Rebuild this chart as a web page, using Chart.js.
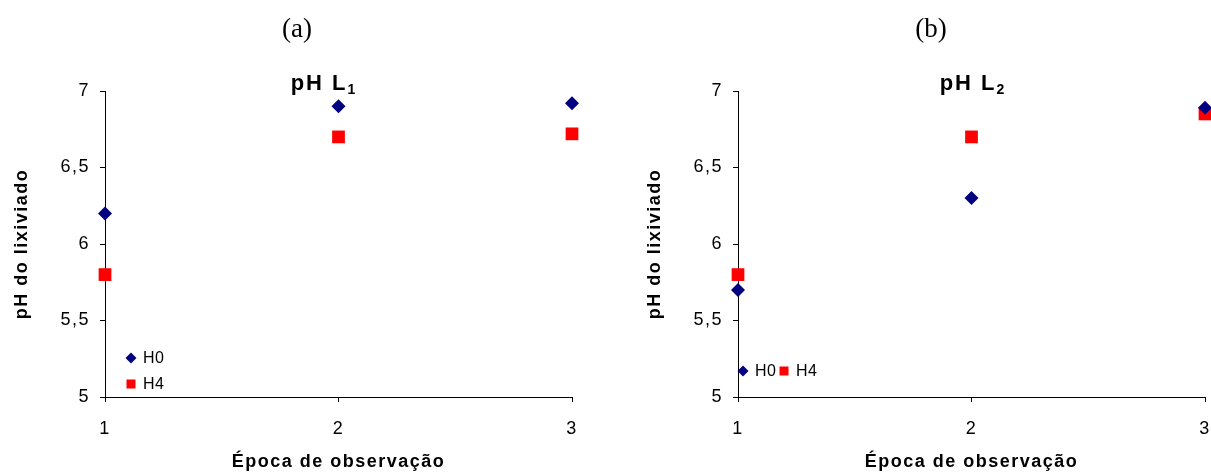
<!DOCTYPE html>
<html>
<head>
<meta charset="utf-8">
<script src="https://cdn.jsdelivr.net/npm/chart.js@4/dist/chart.umd.min.js"></script>
<style>
  html, body { margin: 0; padding: 0; background: #ffffff; }
  #wrap { position: relative; width: 1211px; height: 473px; overflow: hidden; }
  .box { position: absolute; top: 0; height: 473px; }
  #boxA { left: 0; width: 605px; }
  #boxB { left: 605px; width: 606px; }
</style>
</head>
<body>
<div id="wrap">
  <div class="box" id="boxA"><canvas id="chartA" width="605" height="473"></canvas></div>
  <div class="box" id="boxB"><canvas id="chartB" width="606" height="473"></canvas></div>
</div>
<script>
// ---- data ----
const epochs = [1, 2, 3];
const seriesNames = ['H0', 'H4'];
const panelLabels = ['(a)', '(b)'];
const panelTitles = ['pH L', 'pH L'];
const panelTitleSubs = ['1', '2'];
const L1_H0 = [6.2, 6.9, 6.92];
const L1_H4 = [5.8, 6.7, 6.72];
const L2_H0 = [5.7, 6.3, 6.89];
const L2_H4 = [5.8, 6.7, 6.85];
const yTickValues = [5, 5.5, 6, 6.5, 7];
const yTickLabels = ['5', '5,5', '6', '6,5', '7'];
const xTickLabels = ['1', '2', '3'];
const xAxisTitle = 'Época de observação';
const yAxisTitle = 'pH do lixiviado';

const FONT = "'Liberation Sans', Arial, sans-serif";
const SERIF = "'Liberation Serif', 'Times New Roman', serif";
const H0_COLOR = '#000080';
const H4_COLOR = '#ff0000';

function pts(ys) { return epochs.map((x, i) => ({ x: x, y: ys[i] })); }

// custom decorations: panel label, chart title with subscript, inside legend
const decorPlugin = {
  id: 'decor',
  beforeLayout(chart) { chart.ctx.letterSpacing = '1.5px'; },
  beforeDraw(chart) { chart.ctx.letterSpacing = '1.5px'; },
  afterDraw(chart, args, o) {
    const ctx = chart.ctx;
    ctx.save();
    ctx.letterSpacing = '0px';
    // panel label (a)/(b)
    ctx.fillStyle = '#000';
    ctx.font = '27px ' + SERIF;
    ctx.textAlign = 'center';
    ctx.textBaseline = 'middle';
    ctx.fillText(o.label, o.labelX, 30);
    // chart title with subscript
    ctx.letterSpacing = '2px';
    ctx.font = 'bold 22px ' + FONT;
    const mainW = ctx.measureText(o.title).width;
    ctx.font = 'bold 14px ' + FONT;
    const subW = ctx.measureText(o.sub).width;
    const startX = o.titleX - (mainW + subW) / 2;
    ctx.textAlign = 'left';
    ctx.textBaseline = 'alphabetic';
    ctx.font = 'bold 22px ' + FONT;
    ctx.fillText(o.title, startX, 90);
    ctx.font = 'bold 14px ' + FONT;
    ctx.fillText(o.sub, startX + mainW, 94);
    // legend
    ctx.letterSpacing = '0.5px';
    ctx.font = '16px ' + FONT;
    ctx.textBaseline = 'middle';
    chart.data.datasets.forEach((ds, i) => {
      const p = o.legend[i];
      ctx.fillStyle = ds.backgroundColor;
      ctx.beginPath();
      if (ds.pointStyle === 'rectRot') {
        const r = 5.5;
        ctx.moveTo(p[0] - r, p[1]); ctx.lineTo(p[0], p[1] - r);
        ctx.lineTo(p[0] + r, p[1]); ctx.lineTo(p[0], p[1] + r);
      } else {
        const s = 4.5;
        ctx.rect(p[0] - s, p[1] - s, 2 * s, 2 * s);
      }
      ctx.closePath();
      ctx.fill();
      ctx.fillStyle = '#000';
      ctx.fillText(ds.label, p[0] + 12, p[1] + 1);
    });
    ctx.restore();
  }
};

function makeChart(id, h0, h4, cfg) {
  return new Chart(document.getElementById(id), {
    type: 'scatter',
    data: {
      datasets: [
        { label: seriesNames[0], data: pts(h0), pointStyle: 'rectRot', pointRadius: 7, pointHoverRadius: 7,
          backgroundColor: H0_COLOR, borderColor: H0_COLOR, borderWidth: 0, clip: false },
        { label: seriesNames[1], data: pts(h4), pointStyle: 'rect', pointRadius: 9, pointHoverRadius: 9,
          backgroundColor: H4_COLOR, borderColor: H4_COLOR, borderWidth: 0, clip: false }
      ]
    },
    options: {
      responsive: false,
      animation: false,
      devicePixelRatio: 1,
      layout: { autoPadding: false, padding: { top: 91, right: cfg.padRight, bottom: 0, left: 0 } },
      plugins: {
        legend: { display: false },
        title: { display: false },
        tooltip: { enabled: false },
        decor: cfg.decor
      },
      scales: {
        x: {
          type: 'linear', min: 1, max: 3,
          afterFit(s) { s.height = 76; s.paddingLeft = 0; s.paddingRight = 0; },
          afterBuildTicks(s) { s.ticks = epochs.map(v => ({ value: v })); },
          ticks: { stepSize: 1, color: '#000', font: { family: FONT, size: 18 }, padding: 16,
                   maxRotation: 0, callback: (v) => xTickLabels[epochs.indexOf(v)] },
          grid: { drawOnChartArea: false, drawTicks: true, tickLength: 5, color: '#000', tickColor: '#000' },
          border: { display: true, color: '#000', width: 1 },
          title: { display: true, text: xAxisTitle, color: '#000',
                   font: { family: FONT, size: 18, weight: 'bold' }, padding: { top: 4, bottom: 0 } }
        },
        y: {
          type: 'linear', min: 5, max: 7,
          afterFit(s) { s.width = cfg.yWidth; s.paddingTop = 0; s.paddingBottom = 0; },
          afterBuildTicks(s) { s.ticks = yTickValues.map(v => ({ value: v })); },
          ticks: { color: '#000', font: { family: FONT, size: 18 }, padding: 10,
                   callback: (v) => yTickLabels[yTickValues.indexOf(v)] },
          grid: { drawOnChartArea: false, drawTicks: true, tickLength: 5, color: '#000', tickColor: '#000' },
          border: { display: true, color: '#000', width: 1 },
          title: { display: true, text: yAxisTitle, color: '#000',
                   font: { family: FONT, size: 18, weight: 'bold' }, padding: { top: cfg.yTitlePad, bottom: 0 } }
        }
      }
    },
    plugins: [decorPlugin]
  });
}

makeChart('chartA', L1_H0, L1_H4, {
  yWidth: 105, padRight: 33, yTitlePad: 11,
  decor: { label: panelLabels[0], labelX: 297, title: panelTitles[0], sub: panelTitleSubs[0], titleX: 324,
           legend: [[131, 358], [131, 384]] }
});
makeChart('chartB', L2_H0, L2_H4, {
  yWidth: 133, padRight: 6, yTitlePad: 39,
  decor: { label: panelLabels[1], labelX: 326, title: panelTitles[1], sub: panelTitleSubs[1], titleX: 368,
           legend: [[138, 371], [179, 371]] }
});
</script>
</body>
</html>
